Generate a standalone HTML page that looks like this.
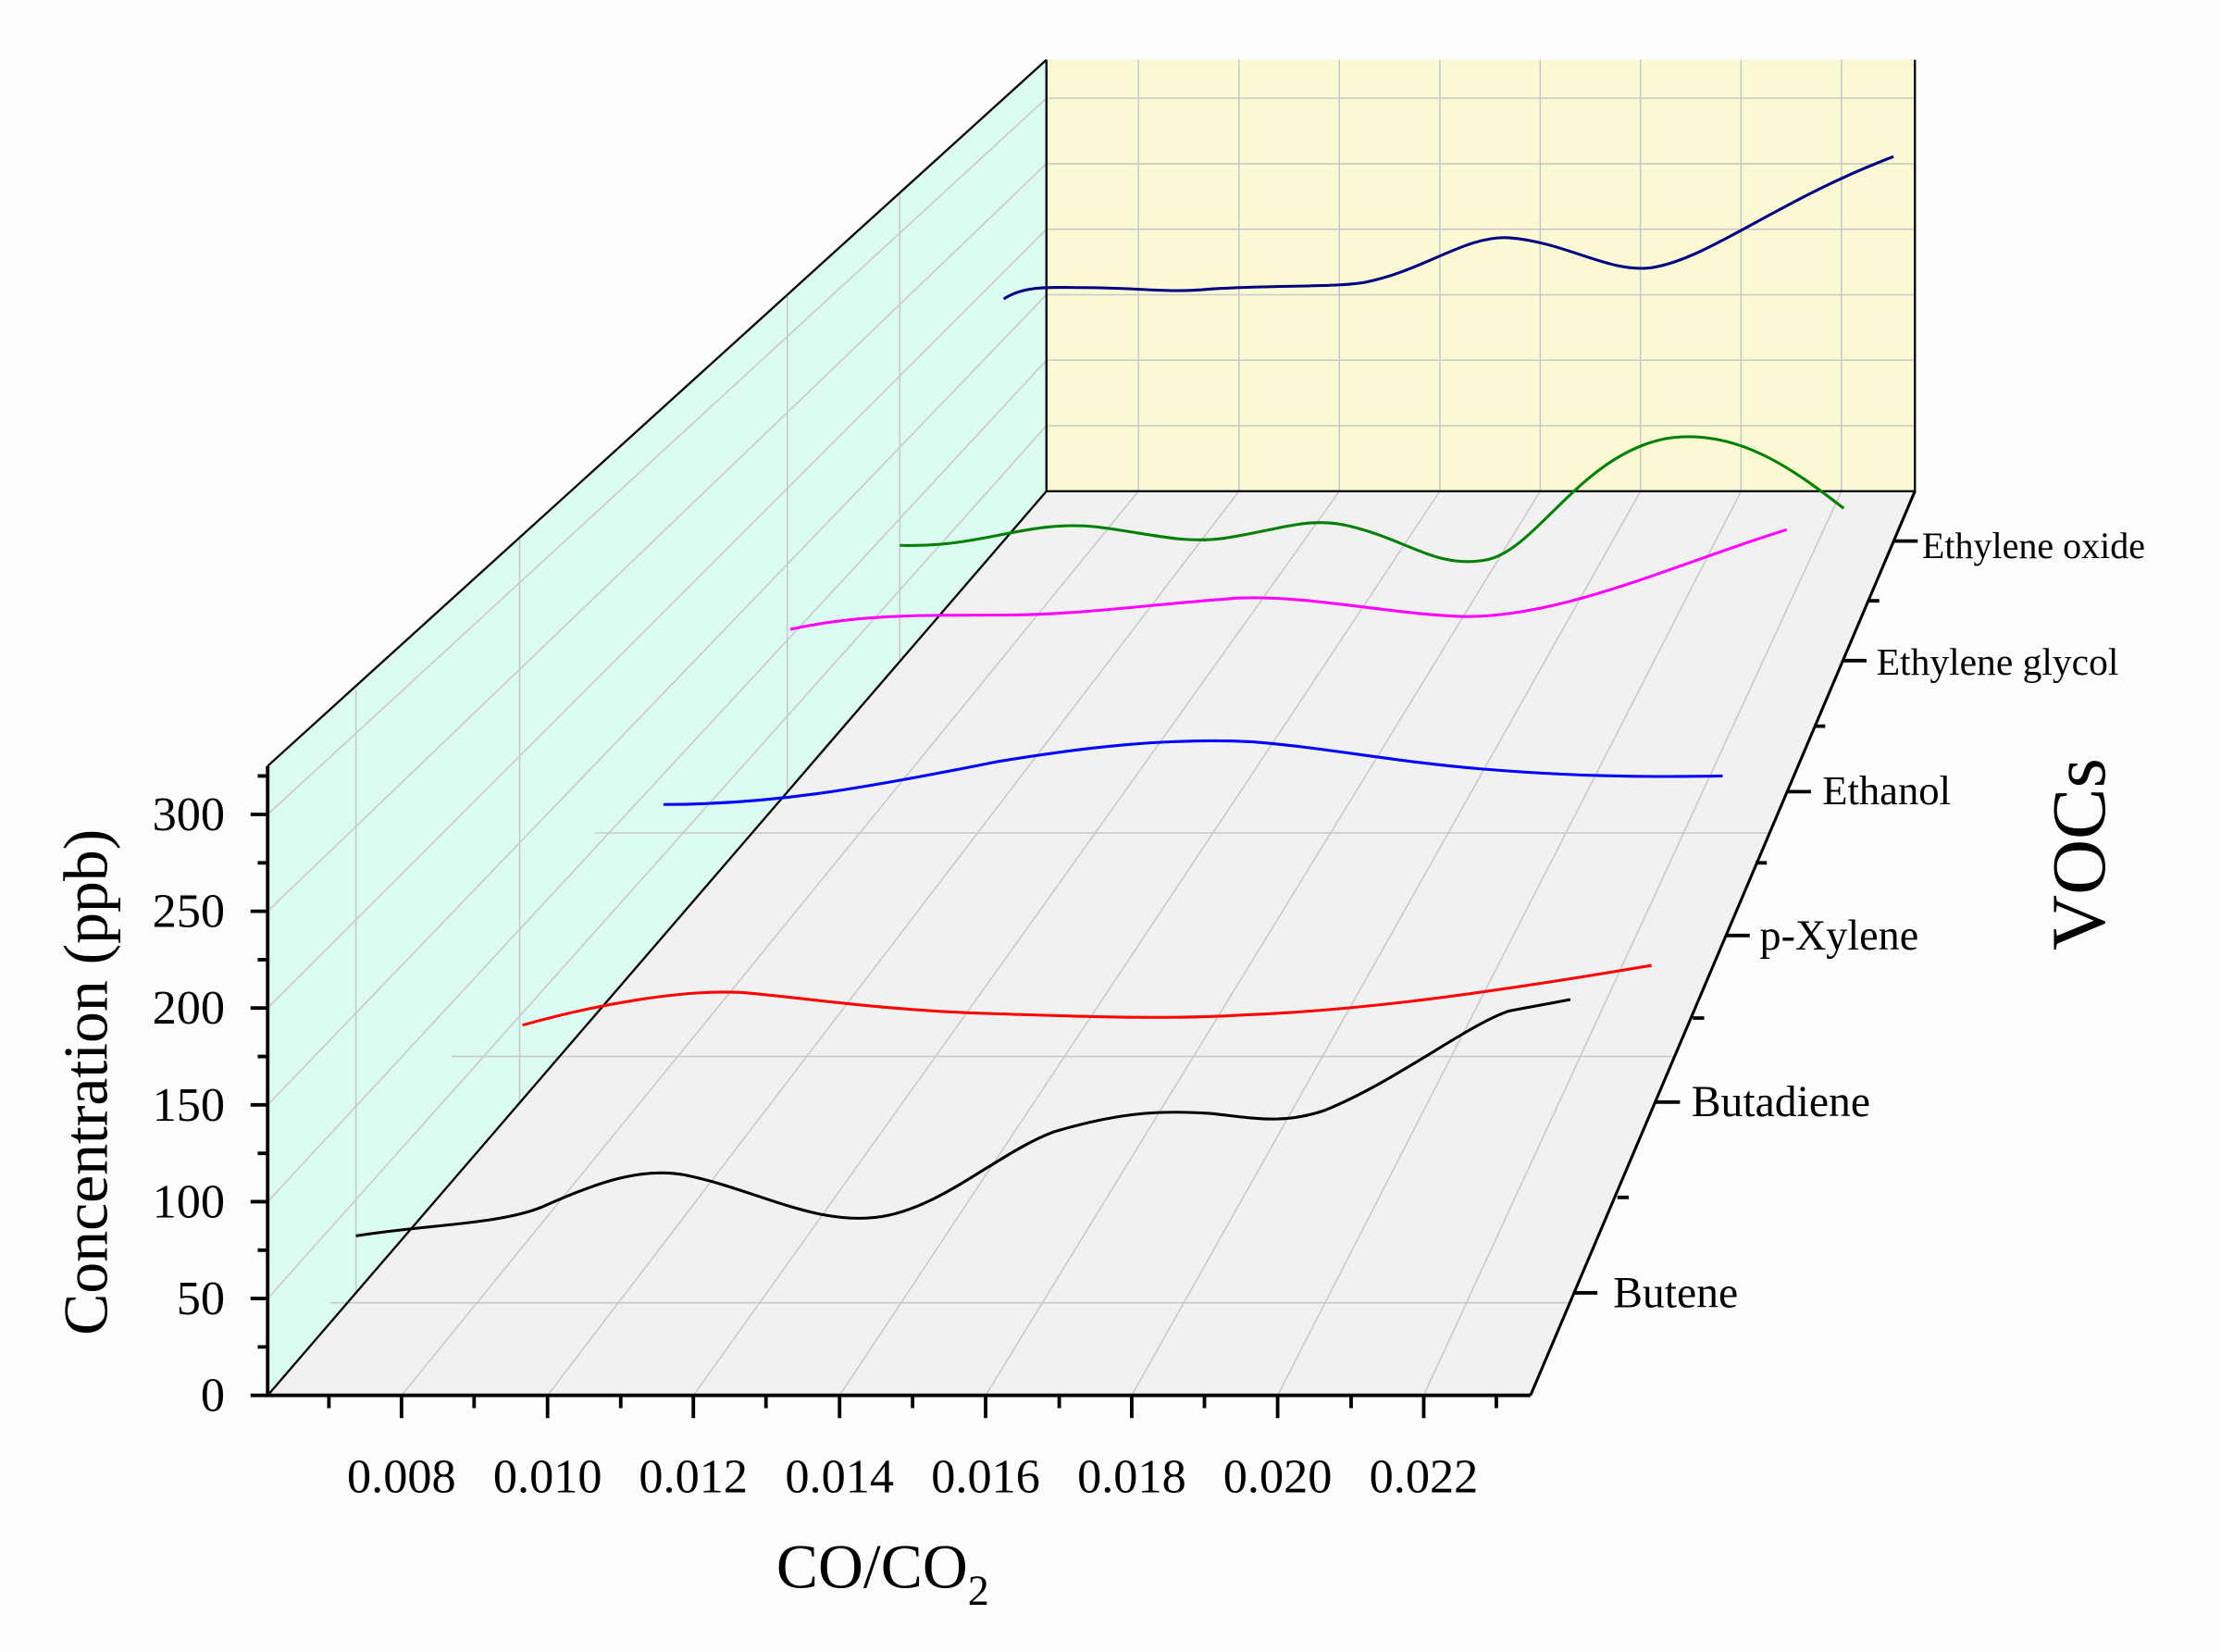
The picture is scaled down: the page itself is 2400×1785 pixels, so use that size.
<!DOCTYPE html>
<html><head><meta charset="utf-8"><style>html,body{margin:0;padding:0;background:#fff}svg{display:block}</style></head>
<body>
<svg width="2400" height="1785" viewBox="0 0 1560 1160.25" xmlns="http://www.w3.org/2000/svg" font-family="'Liberation Serif',serif">
<rect width="1560" height="1161" fill="#fdfdfd"/>
<polygon points="735,42 1345,42 1345,345 735,345" fill="#fbf8d4"/>
<polygon points="188,538 735,42 735,345 188,980" fill="#dcfbf2"/>
<polygon points="188,980 1075,980 1345,345 735,345" fill="#f1f1f1"/>
<g stroke="#c8c8c8" stroke-width="1" fill="none">
<path d="M735,299H1345M735,253H1345M735,207H1345M735,161H1345M735,115H1345M735,69H1345"/>
<path d="M188,912L735,299M188,844L735,253M188,776L735,207M188,708L735,161M188,640L735,115M188,572L735,69"/>
<path d="M250,484V908M365,376V774M553,207V556M632,135V464"/>
<path d="M232,915H1102M317,742H1176M418,585H1243"/>
<path d="M282,980L799.6,345V42M384.6,980L870.2,345V42M487.1,980L940.7,345V42M589.7,980L1011.3,345V42M692.3,980L1081.8,345V42M794.9,980L1152.3,345V42M897.4,980L1222.9,345V42M1000,980L1293.4,345V42"/>
</g>
<g stroke="#000" stroke-width="1.5" fill="none">
<path d="M188,538L735,42M188,980L735,345H1345V42M735,42V345"/>
</g>
<g stroke="#000" stroke-width="2" fill="none">
<path d="M1075,980L1345,345"/>
</g>
<g fill="none" stroke-width="2">
<path stroke="#000" d="M250,868 C300,860 350,860 380,848 C420,830 450,820 480,825 C530,835 570,860 615,855 C660,850 700,810 740,795 C790,780 820,780 850,782 C880,785 900,790 930,780 C980,760 1030,720 1060,710 L1103,702"/>
<path stroke="#ff0000" d="M367,720 C420,705 480,695 520,697 C560,700 620,710 700,712 C760,714 820,716 870,713 C950,710 1030,700 1160,678"/>
<path stroke="#0000ff" d="M466,565 C540,565 600,555 700,535 C760,525 820,518 880,521 C930,525 980,535 1040,540 C1100,545 1150,546 1210,545"/>
<path stroke="#ff00ff" d="M555,442 C600,432 640,432 700,432 C760,432 800,425 870,420 C920,418 980,432 1030,433 C1100,433 1180,395 1255,372"/>
<path stroke="#008000" d="M632,383 C690,385 720,365 770,370 C810,375 830,382 860,378 C900,372 920,362 950,370 C990,380 1010,400 1045,393 C1080,385 1110,320 1170,308 C1220,300 1260,330 1295,357"/>
<path stroke="#000080" d="M705,210 C720,200 740,202 760,202 C800,202 820,206 850,203 C900,200 940,202 960,198 C1000,190 1030,165 1060,167 C1100,170 1130,192 1160,188 C1200,182 1250,140 1330,110"/>
</g>
<g stroke="#000" stroke-width="2.5" fill="none">
<path d="M188,538V980H1075"/>
<path d="M176,980H188M176,912H188M176,844H188M176,776H188M176,708H188M176,640H188M176,572H188"/>
<path d="M181,946H188M181,878H188M181,810H188M181,742H188M181,674H188M181,606H188M181,545H188"/>
<path d="M282,980V996M384.6,980V996M487,980V996M589.7,980V996M692.3,980V996M794.9,980V996M897.4,980V996M1000,980V996"/>
<path d="M231,980V989M333,980V989M436,980V989M538,980V989M641,980V989M744,980V989M846,980V989M949,980V989M1051,980V989"/>
<path d="M1105,908H1122M1163,774H1180M1212,657H1229M1255,556H1272M1294,464H1311M1330,380H1347"/>
<path d="M1136,841H1144M1189,715H1197M1233,606H1241M1274,510H1282M1312,422H1320"/>
</g>
<g font-size="34" fill="#000" text-anchor="end">
<text x="158" y="991">0</text><text x="158" y="923">50</text><text x="158" y="855">100</text><text x="158" y="787">150</text><text x="158" y="719">200</text><text x="158" y="651">250</text><text x="158" y="583">300</text>
</g>
<g font-size="34" fill="#000" text-anchor="middle">
<text x="282" y="1048">0.008</text><text x="384.6" y="1048">0.010</text><text x="487" y="1048">0.012</text><text x="589.7" y="1048">0.014</text><text x="692.3" y="1048">0.016</text><text x="794.9" y="1048">0.018</text><text x="897.4" y="1048">0.020</text><text x="1000" y="1048">0.022</text>
</g>
<g fill="#000">
<text x="1133" y="918" font-size="31">Butene</text><text x="1188" y="784" font-size="31">Butadiene</text><text x="1236" y="667" font-size="30">p-Xylene</text><text x="1280" y="565" font-size="29">Ethanol</text><text x="1318" y="474" font-size="27">Ethylene glycol</text><text x="1350" y="392" font-size="26">Ethylene oxide</text>
</g>
<text x="620" y="1115" font-size="44" text-anchor="middle">CO/CO<tspan font-size="30" dy="12">2</tspan></text>
<text transform="translate(75,760) rotate(-90)" font-size="44" text-anchor="middle">Concentration (ppb)</text>
<text transform="translate(1478,600) rotate(-90)" font-size="54" text-anchor="middle">VOCs</text>
</svg>
</body></html>
